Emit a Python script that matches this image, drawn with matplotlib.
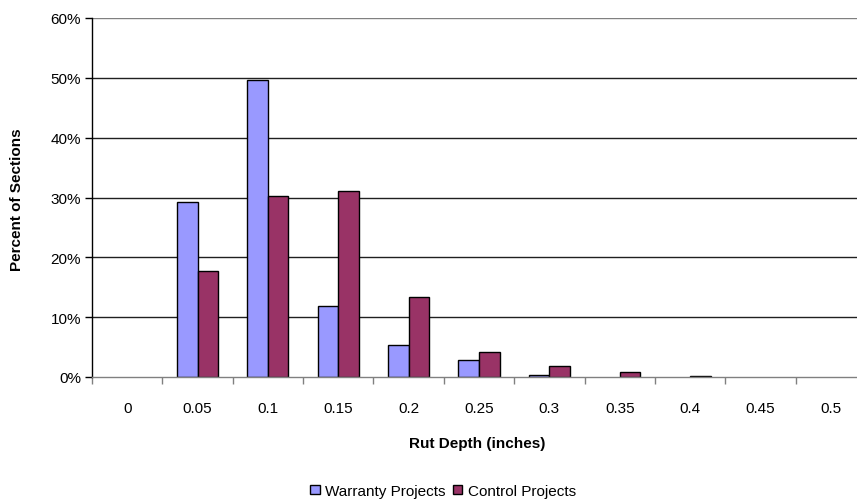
import matplotlib
matplotlib.use('Agg')
import matplotlib.pyplot as plt
import matplotlib.patches as patches
import numpy as np

plt.rcParams['font.family'] = ['Liberation Sans', 'DejaVu Sans']

categories = ['0', '0.05', '0.1', '0.15', '0.2', '0.25', '0.3', '0.35', '0.4', '0.45', '0.5']
warranty = [0.0, 29.3, 49.6, 11.8, 5.4, 2.9, 0.4, 0.0, 0.0, 0.0, 0.0]
control = [0.0, 17.7, 30.3, 31.1, 13.4, 4.1, 1.9, 0.8, 0.2, 0.0, 0.0]
y_ticks = [0, 10, 20, 30, 40, 50, 60]
y_labels = ['0%', '10%', '20%', '30%', '40%', '50%', '60%']

W, H = 857, 502
fig = plt.figure(figsize=(W / 100, H / 100), dpi=100)
# plot area runs past the right edge, as in the reference
ax = fig.add_axes([92 / W, (H - 378) / H, 774 / W, 359 / H])

x = np.arange(len(categories))
bw = 0.292
# empty categories get no bar at all
w_vals = np.where(np.array(warranty) > 0, warranty, np.nan)
c_vals = np.where(np.array(control) > 0, control, np.nan)
ax.bar(x - bw / 2, w_vals, bw, color='#9999FF', edgecolor='black', linewidth=1, zorder=3)
ax.bar(x + bw / 2, c_vals, bw, color='#993366', edgecolor='black', linewidth=1, zorder=3)

ax.set_xlim(-0.5, len(categories) - 0.5)
ax.set_ylim(0, 60)

# gridlines
for t in y_ticks[1:-1]:
    ax.axhline(t, color='#202020', linewidth=1, zorder=1)
ax.axhline(60, color='#808080', linewidth=1, zorder=1)

ax.spines['top'].set_visible(False)
ax.spines['right'].set_visible(False)
ax.spines['left'].set_color('black')
ax.spines['left'].set_linewidth(1)
ax.spines['bottom'].set_color('#808080')
ax.spines['bottom'].set_linewidth(1)
ax.spines['bottom'].set_zorder(4)

ax.set_yticks(y_ticks)
ax.set_yticklabels(y_labels, fontsize=11)
ax.tick_params(axis='y', direction='out', length=5, width=1, color='black', pad=3)

ax.set_xticks(x)
ax.set_xticklabels(categories, fontsize=11)
ax.set_xticks(np.arange(len(categories) + 1) - 0.5, minor=True)
ax.tick_params(axis='x', which='major', length=0, pad=17)
ax.tick_params(axis='x', which='minor', direction='out', length=5, width=1, color='#808080')

fig.text(17 / W, 1 - 200 / H, 'Percent of Sections', rotation=90, fontsize=11,
         fontweight='bold', ha='center', va='center')
fig.text(477 / W, 1 - 444 / H, 'Rut Depth (inches)', fontsize=11,
         fontweight='bold', ha='center', va='center')

handles = [patches.Patch(facecolor='#9999FF', edgecolor='black', linewidth=1),
           patches.Patch(facecolor='#993366', edgecolor='black', linewidth=1)]
fig.legend(handles, ['Warranty Projects', 'Control Projects'], loc='center',
           bbox_to_anchor=(443 / W, 1 - 492 / H), ncol=2, frameon=False, fontsize=11,
           handlelength=0.6, handleheight=0.6, handletextpad=0.35, columnspacing=0.5,
           borderpad=0)

fig.savefig('out.png', dpi=100)
